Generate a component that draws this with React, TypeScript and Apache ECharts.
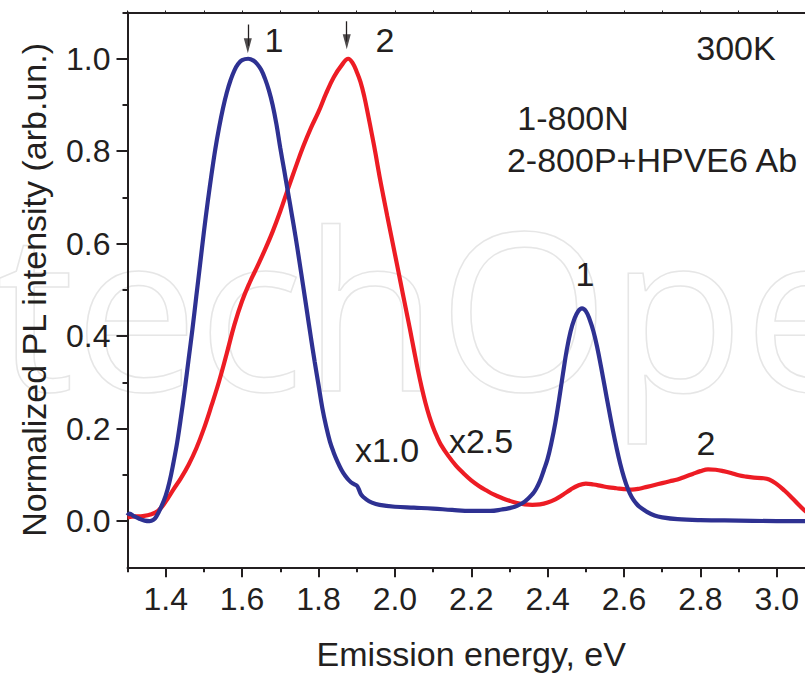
import React, { useEffect, useRef } from "react";
import * as echarts from "echarts";

// Sample 1 (1-800N), blue curve
const energy1 = [1.300, 1.305, 1.318, 1.331, 1.345, 1.358, 1.368, 1.375, 1.388, 1.400, 1.410, 1.420, 1.430, 1.440, 1.450, 1.460, 1.470, 1.480, 1.490, 1.500, 1.510, 1.520, 1.530, 1.540, 1.550, 1.560, 1.570, 1.580, 1.590, 1.600, 1.616, 1.630, 1.640, 1.650, 1.660, 1.670, 1.680, 1.690, 1.700, 1.710, 1.720, 1.730, 1.740, 1.750, 1.760, 1.770, 1.780, 1.790, 1.800, 1.810, 1.820, 1.830, 1.840, 1.850, 1.860, 1.870, 1.880, 1.890, 1.900, 1.905, 1.912, 1.925, 1.940, 1.960, 2.000, 2.050, 2.100, 2.150, 2.200, 2.250, 2.280, 2.300, 2.320, 2.340, 2.360, 2.370, 2.380, 2.390, 2.400, 2.410, 2.420, 2.430, 2.440, 2.450, 2.460, 2.470, 2.480, 2.490, 2.500, 2.510, 2.520, 2.530, 2.540, 2.550, 2.560, 2.570, 2.580, 2.590, 2.600, 2.610, 2.620, 2.630, 2.640, 2.660, 2.680, 2.700, 2.740, 2.800, 2.900, 3.000, 3.100];
const intensity1 = [0.012, 0.016, 0.010, 0.005, 0.001, 0.000, 0.003, 0.009, 0.030, 0.055, 0.085, 0.125, 0.170, 0.225, 0.285, 0.350, 0.415, 0.485, 0.555, 0.625, 0.690, 0.750, 0.805, 0.852, 0.893, 0.927, 0.954, 0.975, 0.989, 0.997, 1.000, 0.996, 0.988, 0.976, 0.957, 0.932, 0.900, 0.858, 0.807, 0.760, 0.712, 0.664, 0.615, 0.562, 0.508, 0.453, 0.398, 0.345, 0.295, 0.245, 0.205, 0.172, 0.148, 0.128, 0.111, 0.098, 0.088, 0.081, 0.077, 0.070, 0.057, 0.047, 0.040, 0.035, 0.031, 0.029, 0.027, 0.024, 0.022, 0.022, 0.025, 0.028, 0.033, 0.042, 0.058, 0.070, 0.087, 0.110, 0.135, 0.170, 0.212, 0.263, 0.318, 0.370, 0.410, 0.437, 0.454, 0.460, 0.454, 0.436, 0.410, 0.375, 0.333, 0.288, 0.243, 0.200, 0.160, 0.124, 0.094, 0.070, 0.052, 0.040, 0.031, 0.020, 0.012, 0.008, 0.004, 0.002, 0.001, 0.000, 0.000];

// Sample 2 (2-800P+HPVE6 Ab), red curve
const energy2 = [1.300, 1.320, 1.340, 1.360, 1.380, 1.400, 1.420, 1.440, 1.460, 1.480, 1.500, 1.520, 1.540, 1.560, 1.580, 1.600, 1.620, 1.640, 1.660, 1.680, 1.700, 1.720, 1.740, 1.760, 1.780, 1.800, 1.820, 1.840, 1.860, 1.878, 1.890, 1.900, 1.910, 1.920, 1.930, 1.940, 1.950, 1.960, 1.970, 1.980, 1.990, 2.000, 2.010, 2.020, 2.030, 2.040, 2.050, 2.060, 2.070, 2.080, 2.090, 2.100, 2.110, 2.120, 2.140, 2.160, 2.180, 2.200, 2.220, 2.240, 2.260, 2.280, 2.300, 2.320, 2.340, 2.360, 2.380, 2.400, 2.420, 2.440, 2.460, 2.480, 2.500, 2.520, 2.540, 2.560, 2.580, 2.600, 2.620, 2.640, 2.660, 2.680, 2.700, 2.720, 2.740, 2.760, 2.780, 2.800, 2.820, 2.840, 2.860, 2.880, 2.900, 2.920, 2.940, 2.960, 2.980, 3.000, 3.020, 3.040, 3.060, 3.080, 3.100];
const intensity2 = [0.008, 0.010, 0.011, 0.014, 0.022, 0.042, 0.068, 0.093, 0.122, 0.157, 0.200, 0.250, 0.303, 0.363, 0.425, 0.476, 0.516, 0.551, 0.587, 0.626, 0.670, 0.718, 0.765, 0.810, 0.850, 0.885, 0.925, 0.960, 0.985, 1.000, 0.990, 0.972, 0.950, 0.918, 0.878, 0.836, 0.792, 0.745, 0.702, 0.660, 0.619, 0.578, 0.537, 0.495, 0.454, 0.413, 0.370, 0.328, 0.290, 0.256, 0.227, 0.203, 0.183, 0.166, 0.141, 0.120, 0.103, 0.088, 0.076, 0.066, 0.057, 0.050, 0.044, 0.039, 0.036, 0.035, 0.036, 0.040, 0.047, 0.057, 0.068, 0.077, 0.081, 0.079, 0.076, 0.073, 0.071, 0.069, 0.068, 0.070, 0.074, 0.078, 0.082, 0.086, 0.090, 0.096, 0.102, 0.108, 0.112, 0.111, 0.108, 0.104, 0.099, 0.096, 0.094, 0.093, 0.090, 0.080, 0.066, 0.050, 0.033, 0.018, 0.008];

// Axis ticks / labels
const xMajorTicks = [1.4, 1.6, 1.8, 2.0, 2.2, 2.4, 2.6, 2.8, 3.0];
const xMinorTicks = [1.3, 1.5, 1.7, 1.9, 2.1, 2.3, 2.5, 2.7, 2.9, 3.1];
const yMajorTicks = [0.0, 0.2, 0.4, 0.6, 0.8, 1.0];
const yMinorTicks = [0.1, 0.3, 0.5, 0.7, 0.9, 1.1];

// Peak arrows: energy, shaft top, arrow-head centre (in data units)
const arrowEnergy = [1.615, 1.874];
const arrowTop = [1.074, 1.081];
const arrowHead = [1.028, 1.037];

const FONT = '"Liberation Sans", Arial, Helvetica, sans-serif';
const INK = "#231f20";
const BLUE = "#2e3192";
const RED = "#ed1c24";

export default function App() {
  const ref = useRef<HTMLDivElement>(null);

  useEffect(() => {
    document.body.style.margin = "0";
    if (!ref.current) return;
    const chart = echarts.init(ref.current, null, { renderer: "svg" });

    const pairs = (xs: number[], ys: number[]) => xs.map((x, i) => [x, ys[i]]);

    const txt = (text: string, x: number, y: number, size = 34, align = "center") => ({
      type: "text",
      x,
      y,
      z: 10,
      style: {
        text,
        fill: INK,
        font: `${size}px ${FONT}`,
        textAlign: align,
        textVerticalAlign: "middle",
      },
    });

    const option: any = {
      animation: false,
      backgroundColor: "#ffffff",
      textStyle: { fontFamily: FONT, color: INK },
      grid: {
        left: 127.5,
        top: 12.5,
        right: -10,
        bottom: 109.7,
        containLabel: false,
        outerBoundsMode: "none",
      },
      xAxis: [
        {
          type: "value",
          position: "bottom",
          min: 1.3,
          max: 3.1,
          interval: 0.1,
          axisLine: { show: true, onZero: false, lineStyle: { color: INK, width: 2 } },
          axisTick: { show: true, length: 10, customValues: xMajorTicks, lineStyle: { color: INK, width: 2 } },
          axisLabel: {
            show: true,
            customValues: xMajorTicks,
            formatter: (v: number) => v.toFixed(1),
            fontSize: 32,
            color: INK,
            margin: 16,
            fontFamily: FONT,
          },
          splitLine: { show: false },
          name: "Emission energy, eV",
          nameLocation: "middle",
          nameGap: 70,
          nameTextStyle: { fontSize: 34, color: INK, fontFamily: FONT },
        },
        {
          type: "value",
          position: "bottom",
          min: 1.3,
          max: 3.1,
          interval: 0.1,
          axisLine: { show: false, onZero: false },
          axisTick: { show: true, length: 5, customValues: xMinorTicks, lineStyle: { color: INK, width: 2 } },
          axisLabel: { show: false },
          splitLine: { show: false },
        },
        {
          type: "value",
          position: "top",
          min: 1.3,
          max: 3.1,
          interval: 0.1,
          axisLine: { show: true, onZero: false, lineStyle: { color: INK, width: 2 } },
          axisTick: { show: true, length: 2, lineStyle: { color: INK, width: 1 } },
          axisLabel: { show: false },
          splitLine: { show: false },
        },
      ],
      yAxis: [
        {
          type: "value",
          position: "left",
          min: -0.1,
          max: 1.1,
          interval: 0.1,
          axisLine: { show: true, onZero: false, lineStyle: { color: INK, width: 2 } },
          axisTick: { show: true, length: 11, customValues: yMajorTicks, lineStyle: { color: INK, width: 2 } },
          axisLabel: {
            show: true,
            customValues: yMajorTicks,
            formatter: (v: number) => v.toFixed(1),
            fontSize: 32,
            color: INK,
            margin: 17,
            fontFamily: FONT,
          },
          splitLine: { show: false },
          name: "Normalized PL intensity (arb.un.)",
          nameLocation: "middle",
          nameGap: 77,
          nameTextStyle: { fontSize: 34, color: INK, fontFamily: FONT },
        },
        {
          type: "value",
          position: "left",
          min: -0.1,
          max: 1.1,
          interval: 0.1,
          axisLine: { show: false, onZero: false },
          axisTick: { show: true, length: 5, customValues: yMinorTicks, lineStyle: { color: INK, width: 2 } },
          axisLabel: { show: false },
          splitLine: { show: false },
        },
      ],
      series: [
        {
          name: "2-800P+HPVE6 Ab",
          type: "line",
          xAxisIndex: 0,
          yAxisIndex: 0,
          data: pairs(energy2, intensity2),
          showSymbol: false,
          smooth: 0.4,
          lineStyle: { color: RED, width: 4.2 },
          itemStyle: { color: RED },
          z: 3,
          markLine: {
            silent: true,
            symbol: ["none", "none"],
            label: { show: false },
            lineStyle: { color: INK, width: 1.3, type: "solid" },
            data: arrowEnergy.map((x, i) => [
              { coord: [x, arrowTop[i]] },
              { coord: [x, arrowHead[i]] },
            ]),
          },
        },
        {
          name: "1-800N",
          type: "line",
          xAxisIndex: 0,
          yAxisIndex: 0,
          data: pairs(energy1, intensity1),
          showSymbol: false,
          smooth: 0.4,
          lineStyle: { color: BLUE, width: 4.2 },
          itemStyle: { color: BLUE },
          z: 4,
        },
        {
          name: "arrows",
          type: "scatter",
          xAxisIndex: 0,
          yAxisIndex: 0,
          data: pairs(arrowEnergy, arrowHead),
          symbol: "triangle",
          symbolRotate: 180,
          symbolSize: [8, 15],
          itemStyle: { color: INK },
          silent: true,
          z: 5,
        },
      ],
      graphic: [
        {
          type: "text",
          x: -4,
          y: 305,
          z: 0,
          silent: true,
          style: {
            text: "techOpen",
            fill: "none",
            stroke: "#e6e6e6",
            lineWidth: 1.5,
            font: '220px "Open Sans", sans-serif',
            textAlign: "left",
            textVerticalAlign: "middle",
          },
        },
        txt("1", 274, 40),
        txt("2", 385, 40),
        txt("300K", 736, 48),
        txt("1-800N", 573, 117.5),
        txt("2-800P+HPVE6 Ab", 652, 160),
        txt("1", 585, 274),
        txt("x1.0", 387, 450),
        txt("x2.5", 481, 441),
        txt("2", 706, 443),
      ],
    };

    chart.setOption(option);
    return () => chart.dispose();
  }, []);

  return <div ref={ref} style={{ width: 805, height: 677 }} />;
}
